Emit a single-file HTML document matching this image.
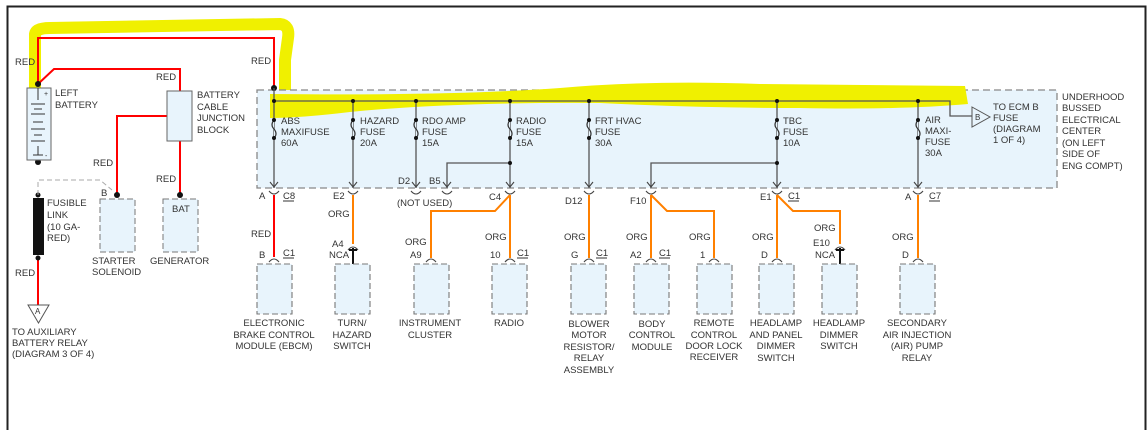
<!DOCTYPE html>
<html><head><meta charset="utf-8"><style>
html,body{margin:0;padding:0;background:#fff;}
svg{display:block;font-family:"Liberation Sans",Arial,sans-serif;font-size:9.5px;fill:#333;}
text{fill:#333;}
</style></head><body>
<svg width="1148" height="430" viewBox="0 0 1148 430" xmlns="http://www.w3.org/2000/svg">
<!-- frame -->
<path d="M7.5 430 V6.5 H1145.5 V430" fill="none" stroke="#222" stroke-width="2"/>
<!-- yellow highlight -->
<path d="M35 102 V34 Q36 28 50 28 L280 24 Q290 25 288 38 L285 60 V112" fill="none" stroke="#f0f000" stroke-width="12" stroke-linejoin="round"/>
<!-- underhood box -->
<rect x="257" y="90" width="800" height="98" fill="#e8f4fc" stroke="#888" stroke-width="1.3" stroke-dasharray="7,4"/>
<path d="M270 94 Q450 96 560 88 Q650 80 760 84 L965 86 L968 104 Q900 110 800 108 Q700 108 600 103 Q450 102 350 112 Q300 118 270 118 Z" fill="#f0f000"/>
<!-- red wires -->
<g fill="none" stroke="#f00" stroke-width="2">
<path d="M38 84 V38 H274 V88"/>
<path d="M38 84 L54 69 H180 V195"/>
<path d="M180 116 H117 V195"/>
<path d="M38 258 V305"/>
<path d="M274 195 V257"/>
</g>
<g fill="#111">
<circle cx="38" cy="84" r="3"/><circle cx="274" cy="88" r="3"/><circle cx="180" cy="116" r="2.5"/>
<circle cx="117" cy="195" r="3"/><circle cx="180" cy="195" r="3"/><circle cx="38" cy="162" r="3"/>
<circle cx="38" cy="195" r="2.5"/><circle cx="38" cy="258" r="2.5"/>
</g>
<!-- battery -->
<rect x="27" y="88" width="24" height="72" fill="#e8f4fc" stroke="#666"/>
<path d="M38 88 V100 M31 104 H45 M34 109 H42 M31 114 H45 M33 122 H43 M31 129 H45 M34 135 H42 M31 141 H45 M38 146 V155 M33 155 H43" stroke="#333" fill="none"/>
<text x="44" y="96" font-size="7">+</text><text x="45" y="158" font-size="7">-</text>
<text x="55" y="96">LEFT</text><text x="55" y="108">BATTERY</text>
<text x="15" y="65">RED</text><text x="156" y="80">RED</text><text x="251" y="64">RED</text>
<!-- junction block -->
<rect x="167" y="91" width="25" height="50" fill="#e8f4fc" stroke="#666"/>
<text x="197" y="98">BATTERY</text><text x="197" y="110">CABLE</text><text x="197" y="121">JUNCTION</text><text x="197" y="133">BLOCK</text>
<text x="93" y="166">RED</text><text x="156" y="182">RED</text>
<!-- starter/generator -->
<path d="M38 195 V180 H100 L112 190" fill="none" stroke="#aaa" stroke-dasharray="5,3"/>
<rect x="100" y="199" width="35" height="53" fill="#e8f4fc" stroke="#777" stroke-dasharray="6,3"/>
<rect x="163" y="199" width="35" height="53" fill="#e8f4fc" stroke="#777" stroke-dasharray="6,3"/>
<text x="101" y="196">B</text><text x="172" y="212">BAT</text>
<text x="92" y="264">STARTER</text><text x="92" y="275">SOLENOID</text><text x="150" y="264">GENERATOR</text>
<!-- fusible link -->
<rect x="33" y="198" width="11" height="57" fill="#111"/>
<text x="47" y="206">FUSIBLE</text><text x="47" y="218">LINK</text><text x="47" y="230">(10 GA-</text><text x="47" y="241">RED)</text>
<text x="15" y="276">RED</text>
<path d="M28 305 H49 L38.5 323 Z" fill="none" stroke="#555"/><text x="35" y="314" font-size="8">A</text>
<text x="12" y="335">TO AUXILIARY</text><text x="12" y="346">BATTERY RELAY</text><text x="12" y="357">(DIAGRAM 3 OF 4)</text>
<!-- bus -->
<g fill="none" stroke="#555" stroke-width="1.3">
<path d="M274 101 H950 V116 H972"/>
<path d="M274 88 V188 M353 101 V188 M416 101 V188 M510 101 V188 M589 101 V188 M777 101 V188 M918 101 V188"/>
<path d="M510 163 H447 V188 M777 163 H651 V188"/>
</g>
<path d="M972 107 L990 117 L972 127 Z" fill="#e8f4fc" stroke="#555"/><text x="975" y="120" font-size="8">B</text>
<text x="993" y="110">TO ECM B</text><text x="993" y="121">FUSE</text><text x="993" y="132">(DIAGRAM</text><text x="993" y="143">1 OF 4)</text>
<text x="1062" y="100">UNDERHOOD</text><text x="1062" y="111">BUSSED</text><text x="1062" y="123">ELECTRICAL</text><text x="1062" y="134">CENTER</text><text x="1062" y="146">(ON LEFT</text><text x="1062" y="157">SIDE OF</text><text x="1062" y="169">ENG COMPT)</text>
<!-- fuses -->
<g fill="#e8f4fc" stroke="#333" stroke-width="1.2">
<path d="M274 120 q-4 5 0 9 q4 5 0 9"/><path d="M353 120 q-4 5 0 9 q4 5 0 9"/><path d="M416 120 q-4 5 0 9 q4 5 0 9"/><path d="M510 120 q-4 5 0 9 q4 5 0 9"/><path d="M589 120 q-4 5 0 9 q4 5 0 9"/><path d="M777 120 q-4 5 0 9 q4 5 0 9"/><path d="M918 120 q-4 5 0 9 q4 5 0 9"/>
</g>
<g fill="#111">
<circle cx="274" cy="101" r="2"/><circle cx="353" cy="101" r="2"/><circle cx="416" cy="101" r="2"/><circle cx="510" cy="101" r="2"/><circle cx="589" cy="101" r="2"/><circle cx="777" cy="101" r="2"/><circle cx="918" cy="101" r="2"/>
<circle cx="274" cy="120" r="2"/><circle cx="274" cy="138" r="2"/><circle cx="353" cy="120" r="2"/><circle cx="353" cy="138" r="2"/><circle cx="416" cy="120" r="2"/><circle cx="416" cy="138" r="2"/><circle cx="510" cy="120" r="2"/><circle cx="510" cy="138" r="2"/><circle cx="589" cy="120" r="2"/><circle cx="589" cy="138" r="2"/><circle cx="777" cy="120" r="2"/><circle cx="777" cy="138" r="2"/><circle cx="918" cy="120" r="2"/><circle cx="918" cy="138" r="2"/>
<circle cx="510" cy="163" r="2"/><circle cx="777" cy="163" r="2"/>
</g>
<text x="281" y="124">ABS</text><text x="281" y="135">MAXIFUSE</text><text x="281" y="146">60A</text>
<text x="360" y="124">HAZARD</text><text x="360" y="135">FUSE</text><text x="360" y="146">20A</text>
<text x="422" y="124">RDO AMP</text><text x="422" y="135">FUSE</text><text x="422" y="146">15A</text>
<text x="516" y="124">RADIO</text><text x="516" y="135">FUSE</text><text x="516" y="146">15A</text>
<text x="595" y="124">FRT HVAC</text><text x="595" y="135">FUSE</text><text x="595" y="146">30A</text>
<text x="783" y="124">TBC</text><text x="783" y="135">FUSE</text><text x="783" y="146">10A</text>
<text x="925" y="123">AIR</text><text x="925" y="134">MAXI-</text><text x="925" y="145">FUSE</text><text x="925" y="156">30A</text>
<!-- arrows into connectors & chevrons -->
<g fill="none" stroke="#444" stroke-width="1.1">
<path d="M270 182 l4 5 l4 -5 M349 182 l4 5 l4 -5 M412 182 l4 5 l4 -5 M443 182 l4 5 l4 -5 M506 182 l4 5 l4 -5 M585 182 l4 5 l4 -5 M647 182 l4 5 l4 -5 M773 182 l4 5 l4 -5 M914 182 l4 5 l4 -5"/>
<path d="M269 191 q5 6 10 0 M348 191 q5 6 10 0 M411 191 q5 6 10 0 M442 191 q5 6 10 0 M505 191 q5 6 10 0 M584 191 q5 6 10 0 M646 191 q5 6 10 0 M772 191 q5 6 10 0 M913 191 q5 6 10 0"/>
<path d="M269 262 q5 -6 10 0 M426 262 q5 -6 10 0 M505 262 q5 -6 10 0 M584 262 q5 -6 10 0 M646 262 q5 -6 10 0 M709 262 q5 -6 10 0 M913 262 q5 -6 10 0 M772 262 q5 -6 10 0"/>
<path d="M348 250 q5 -6 10 0 M835 250 q5 -6 10 0"/>
</g>
<!-- orange wires -->
<g fill="none" stroke="#ff8000" stroke-width="2">
<path d="M353 195 V244"/>
<path d="M510 195 V258 M510 195 L495 211 H431 V258"/>
<path d="M589 195 V258"/>
<path d="M651 195 V258 M651 195 L667 211 H714 V258"/>
<path d="M777 195 V258 M777 195 L793 211 H840 V244"/>
<path d="M918 195 V258"/>
</g>
<path d="M353 248 V264 M840 248 V264 M349 250 H357 M836 250 H844" stroke="#111" stroke-width="2"/>
<!-- connector labels -->
<text x="259" y="199">A</text><text x="283" y="199">C8</text><path d="M283 201 H294" stroke="#333"/>
<text x="333" y="199">E2</text><text x="398" y="184">D2</text><text x="429" y="184">B5</text><text x="397" y="206">(NOT USED)</text>
<text x="489" y="200">C4</text><text x="565" y="204">D12</text><text x="630" y="204">F10</text>
<text x="760" y="200">E1</text><text x="788" y="199">C1</text><path d="M788 201 H799" stroke="#333"/>
<text x="905" y="200">A</text><text x="929" y="199">C7</text><path d="M929 201 H940" stroke="#333"/>
<text x="251" y="237">RED</text><text x="328" y="217">ORG</text><text x="405" y="245">ORG</text><text x="485" y="240">ORG</text><text x="564" y="240">ORG</text><text x="626" y="240">ORG</text><text x="689" y="240">ORG</text><text x="752" y="240">ORG</text><text x="814" y="231">ORG</text><text x="892" y="240">ORG</text>
<text x="332" y="247">A4</text><text x="329" y="258">NCA</text><text x="813" y="246">E10</text><text x="815" y="258">NCA</text>
<text x="259" y="258">B</text><text x="283" y="256">C1</text><path d="M283 258 H294" stroke="#333"/>
<text x="410" y="258">A9</text><text x="490" y="258">10</text><text x="517" y="256">C1</text><path d="M517 258 H528" stroke="#333"/>
<text x="571" y="258">G</text><text x="596" y="256">C1</text><path d="M596 258 H607" stroke="#333"/>
<text x="630" y="258">A2</text><text x="659" y="256">C1</text><path d="M659 258 H670" stroke="#333"/>
<text x="700" y="258">1</text><text x="761" y="258">D</text><text x="902" y="258">D</text>
<!-- device boxes -->
<g fill="#e8f4fc" stroke="#777" stroke-dasharray="6,3" stroke-width="1.1">
<rect x="257" y="264" width="35" height="50"/><rect x="335" y="264" width="35" height="50"/><rect x="414" y="264" width="35" height="50"/><rect x="492" y="264" width="35" height="50"/><rect x="571" y="264" width="35" height="50"/><rect x="634" y="264" width="35" height="50"/><rect x="697" y="264" width="35" height="50"/><rect x="759" y="264" width="35" height="50"/><rect x="822" y="264" width="35" height="50"/><rect x="900" y="264" width="35" height="50"/>
</g>
<g text-anchor="middle">
<text x="274" y="326">ELECTRONIC</text><text x="274" y="338">BRAKE CONTROL</text><text x="274" y="349">MODULE (EBCM)</text>
<text x="352" y="326">TURN/</text><text x="352" y="338">HAZARD</text><text x="352" y="349">SWITCH</text>
<text x="430" y="326">INSTRUMENT</text><text x="430" y="338">CLUSTER</text>
<text x="509" y="326">RADIO</text>
<text x="589" y="327">BLOWER</text><text x="589" y="338">MOTOR</text><text x="589" y="350">RESISTOR/</text><text x="589" y="361">RELAY</text><text x="589" y="373">ASSEMBLY</text>
<text x="652" y="327">BODY</text><text x="652" y="338">CONTROL</text><text x="652" y="350">MODULE</text>
<text x="714" y="326">REMOTE</text><text x="714" y="338">CONTROL</text><text x="714" y="349">DOOR LOCK</text><text x="714" y="360">RECEIVER</text>
<text x="776" y="326">HEADLAMP</text><text x="776" y="338">AND PANEL</text><text x="776" y="349">DIMMER</text><text x="776" y="361">SWITCH</text>
<text x="839" y="326">HEADLAMP</text><text x="839" y="338">DIMMER</text><text x="839" y="349">SWITCH</text>
<text x="917" y="326">SECONDARY</text><text x="917" y="338">AIR INJECTION</text><text x="917" y="349">(AIR) PUMP</text><text x="917" y="361">RELAY</text>
</g>
</svg>
</body></html>
